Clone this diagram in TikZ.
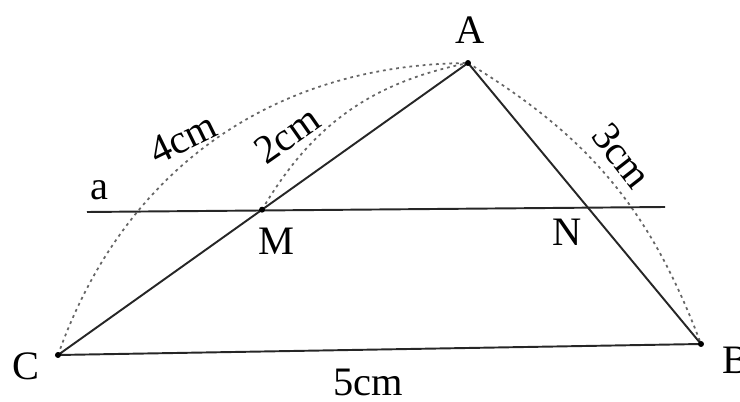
\documentclass[tikz,border=0pt]{standalone}
\usepackage{fontspec}
\setmainfont{Liberation Serif}
\usetikzlibrary{positioning,calc}
\tikzset{
  side/.style   ={line width=1.1pt,black!85},
  arcline/.style={gray!80!black,line width=1pt,dash pattern=on 1.6pt off 2.2pt},
  vertex/.style ={circle,fill=black,minimum size=3.4pt,inner sep=0pt},
  lbl/.style    ={font=\fontsize{23}{27}\selectfont,inner sep=1pt},
}

\begin{document}
\begin{tikzpicture}[x=0.02cm,y=0.02cm]
  \useasboundingbox (0,0) rectangle (740,402);
  \coordinate (C) at (58,47);
  \coordinate (A) at (468,339);
  \coordinate (B) at (701,58);
  \coordinate (M) at ($(C)!0.4976!(A)$);
  \coordinate (a1) at (87,190);
  \coordinate (a2) at (665,195);
  \coordinate (N) at (intersection of A--B and a1--a2);
  % dotted arcs
  \draw[arcline] (C) to[bend left=35] (A);
  \draw[arcline] (M) to[bend left=24] (A);
  \draw[arcline] (A) to[bend left=19] (B);
  % triangle and line a
  \draw[side] (C) -- (A) -- (B) -- cycle;
  \draw[side] (a1) -- (a2);
  \node[vertex] (vC) at (C) {};
  \node[vertex] (vM) at (M) {};
  \node[vertex] (vA) at (A) {};
  \node[vertex] (vB) at (B) {};
  % labels
  \node[lbl] (lA) at (470,372) {A};
  \node[lbl] (lB) at (736,42)  {B};
  \node[lbl] (lC) at (26,36)   {C};
  \node[lbl] (lM) at (276,161) {M};
  \node[lbl] (lN) at (567,170) {N};
  \node[lbl] (la) at (99,212)  {a};
  \node[lbl,rotate=26]  (l4) at (183,264) {4cm};
  \node[lbl,rotate=35]  (l2) at (287,267) {2cm};
  \node[lbl,rotate=-52] (l3) at (622,246) {3cm};
  \node[lbl] (l5) at (368,20)  {5cm};
\end{tikzpicture}
\end{document}
